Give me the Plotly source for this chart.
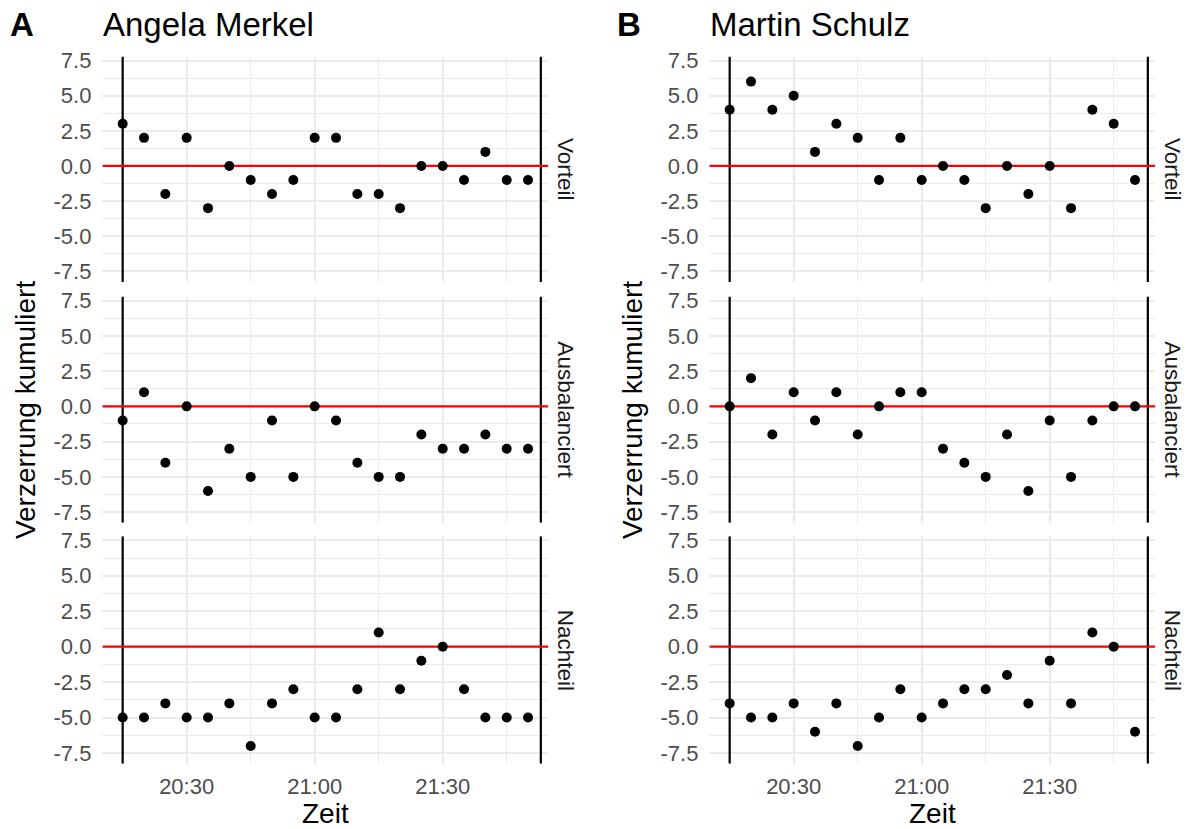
import plotly.graph_objects as go

# ---------------- data ----------------
times = ["20:15", "20:20", "20:25", "20:30", "20:35", "20:40", "20:45", "20:50",
         "20:55", "21:00", "21:05", "21:10", "21:15", "21:20", "21:25", "21:30",
         "21:35", "21:40", "21:45", "21:50"]
date = "2017-09-03"

facets = ["Vorteil", "Ausbalanciert", "Nachteil"]
persons = ["Angela Merkel", "Martin Schulz"]
tags = ["A", "B"]

merkel_vorteil = [3, 2, -2, 2, -3, 0, -1, -2, -1, 2, 2, -2, -2, -3, 0, 0, -1, 1, -1, -1]
merkel_ausbalanciert = [-1, 1, -4, 0, -6, -3, -5, -1, -5, 0, -1, -4, -5, -5, -2, -3, -3, -2, -3, -3]
merkel_nachteil = [-5, -5, -4, -5, -5, -4, -7, -4, -3, -5, -5, -3, 1, -3, -1, 0, -3, -5, -5, -5]

schulz_vorteil = [4, 6, 4, 5, 1, 3, 2, -1, 2, -1, 0, -1, -3, 0, -2, 0, -3, 4, 3, -1]
schulz_ausbalanciert = [0, 2, -2, 1, -1, 1, -2, 0, 1, 1, -3, -4, -5, -2, -6, -1, -5, -1, 0, 0]
schulz_nachteil = [-4, -5, -5, -4, -6, -4, -7, -5, -3, -5, -4, -3, -3, -2, -4, -1, -4, 1, 0, -6]

event_lines = ["20:15", "21:53"]
reference_value = 0
y_ticks = [-7.5, -5.0, -2.5, 0.0, 2.5, 5.0, 7.5]
y_ticktext = ["-7.5", "-5.0", "-2.5", "0.0", "2.5", "5.0", "7.5"]
x_range = ["20:10:15", "21:54:45"]
y_range = [-8.25, 7.78]

series = [[merkel_vorteil, merkel_ausbalanciert, merkel_nachteil],
          [schulz_vorteil, schulz_ausbalanciert, schulz_nachteil]]

# ---------------- layout geometry (pixels) ----------------
W, H = 1186, 829
TOP = 8  # vertical offset observed in the rendering pipeline
FONT = "Liberation Sans, Arial, sans-serif"
col_px = [(102.4, 548.3), (709.4, 1155.3)]
row_px = [(56.7, 282.6), (297.3, 524.0), (537.6, 765.5)]

def fx(px):
    return px / W

def fy(py):
    return 1 - (py - TOP) / (H - TOP)

x_dt = [f"{date} {t}" for t in times]
x_lo = f"{date} {x_range[0]}"
x_hi = f"{date} {x_range[1]}"

fig = go.Figure()
layout = {}
annotations = []

grid_major = "#EBEBEB"
for c in range(2):
    for r in range(3):
        idx = c * 3 + r + 1
        xa = "xaxis" if idx == 1 else f"xaxis{idx}"
        ya = "yaxis" if idx == 1 else f"yaxis{idx}"
        xr = "x" if idx == 1 else f"x{idx}"
        yr = "y" if idx == 1 else f"y{idx}"
        layout[xa] = dict(
            domain=[fx(col_px[c][0]), fx(col_px[c][1])],
            anchor=yr, type="date", range=[x_lo, x_hi],
            tick0=f"{date} 20:00", dtick=1800000, tickformat="%H:%M",
            showgrid=True, gridcolor=grid_major, gridwidth=2,
            minor=dict(tick0=f"{date} 20:00", dtick=900000, showgrid=True,
                       gridcolor=grid_major, gridwidth=1),
            zeroline=False, showline=False, ticks="",
            showticklabels=(r == 2), ticklabelstandoff=7,
            tickfont=dict(family=FONT, size=22, color="#4D4D4D"),
            fixedrange=True,
        )
        layout[ya] = dict(
            domain=[fy(row_px[r][1]), fy(row_px[r][0])],
            anchor=xr, range=y_range,
            tickmode="array", tickvals=y_ticks, ticktext=y_ticktext,
            showgrid=True, gridcolor=grid_major, gridwidth=2,
            minor=dict(tickmode="linear", tick0=0, dtick=1.25, showgrid=True,
                       gridcolor=grid_major, gridwidth=1),
            zeroline=False, showline=False, ticks="",
            ticklabelstandoff=10,
            tickfont=dict(family=FONT, size=22, color="#4D4D4D"),
            fixedrange=True,
        )
        # black event lines
        for t in event_lines:
            fig.add_trace(go.Scatter(
                x=[f"{date} {t}", f"{date} {t}"], y=y_range, mode="lines",
                xaxis=xr, yaxis=yr, line=dict(color="#000000", width=2.2),
                showlegend=False, hoverinfo="skip", cliponaxis=False))
        # red reference line
        fig.add_trace(go.Scatter(
            x=[x_lo, x_hi], y=[reference_value, reference_value], mode="lines",
            xaxis=xr, yaxis=yr, line=dict(color="#FF0000", width=2.2),
            showlegend=False, hoverinfo="skip"))
        # points
        fig.add_trace(go.Scatter(
            x=x_dt, y=series[c][r], mode="markers", xaxis=xr, yaxis=yr,
            marker=dict(color="#000000", size=10), showlegend=False,
            hoverinfo="skip", cliponaxis=False))
        # strip label
        annotations.append(dict(
            text=facets[r], textangle=90, xref="paper", yref="paper",
            x=fx(col_px[c][1] + 17), y=fy((row_px[r][0] + row_px[r][1]) / 2),
            xanchor="center", yanchor="middle", showarrow=False,
            font=dict(family=FONT, size=22.5, color="#1A1A1A")))

    # panel titles and tags
    annotations.append(dict(
        text=persons[c], xref="paper", yref="paper",
        x=fx(col_px[c][0] - 1), y=fy(25), xanchor="left", yanchor="middle",
        showarrow=False, font=dict(family=FONT, size=33, color="#000000")))
    annotations.append(dict(
        text=f"<b>{tags[c]}</b>", xref="paper", yref="paper",
        x=fx(8 + c * 607), y=fy(25), xanchor="left", yanchor="middle",
        showarrow=False, font=dict(family=FONT, size=33, color="#000000")))
    # axis titles
    annotations.append(dict(
        text="Zeit", xref="paper", yref="paper",
        x=fx((col_px[c][0] + col_px[c][1]) / 2), y=fy(815),
        xanchor="center", yanchor="middle", showarrow=False,
        font=dict(family=FONT, size=28, color="#000000")))
    annotations.append(dict(
        text="Verzerrung kumuliert", textangle=-90, xref="paper", yref="paper",
        x=fx(25 + c * 607), y=fy((row_px[0][0] + row_px[2][1]) / 2),
        xanchor="center", yanchor="middle", showarrow=False,
        font=dict(family=FONT, size=28, color="#000000")))

fig.update_layout(
    width=W, height=H, autosize=False,
    margin=dict(l=0, r=0, t=0, b=0),
    paper_bgcolor="#FFFFFF", plot_bgcolor="#FFFFFF",
    annotations=annotations,
    font=dict(family=FONT),
    **layout,
)

post = ("document.documentElement.style.margin='0';"
        "document.body.style.margin='0';document.body.style.overflow='hidden';"
        "var d=document.getElementById('{plot_id}');"
        "d.style.position='fixed';d.style.top='0px';d.style.left='0px';")

fig.write_html("out.html", config={"displayModeBar": False}, post_script=post)
